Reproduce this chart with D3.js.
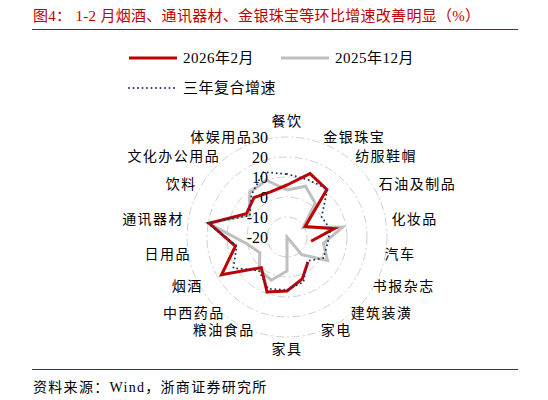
<!DOCTYPE html>
<html lang="zh">
<head>
<meta charset="UTF-8">
<title>图4 雷达图</title>
<script src="https://d3js.org/d3.v7.min.js"></script>
<style>
  body { margin: 0; background: #fff; }
  svg text { font-family: "Liberation Serif", "Noto Sans CJK SC", serif; fill: #000; }
</style>
</head>
<body>
<svg id="chart" width="548" height="400"></svg>
<script>
// categories, clockwise from the top
const categories = ['餐饮', '金银珠宝', '纺服鞋帽', '石油及制品', '化妆品', '汽车', '书报杂志', '建筑装潢',
  '家电', '家具', '粮油食品', '中西药品', '烟酒', '日用品', '通讯器材', '饮料', '文化办公用品', '体娱用品'];

// 2026年2月 (书报杂志 missing)
const feb2026 = [6, 13.7, 11, -9.5, 4, -7.8, null, -3.7, 2.3, 7, 9.2, 0, 17.8, 6.2, 19.5, 3.4, 5.7, 4];
// 2025年12月
const dec2025 = [3.5, 7, 2, -10.8, 8.3, -1.5, 3.4, -8.5, -20, -3, 3, 1.5, -4.3, 0.2, 20, 1.8, 9, 10.2];
// 三年复合增速
const cagr3y = [11.5, 10.5, 11.5, 0, 2, 0.5, 1, -4.3, 4, 6.5, 7.6, 1.9, 11, 5.5, 20.5, 1.5, 7.6, 14.5];

const ringTicks = [-20, -10, 0, 10, 20, 30];

const seriesNames = ['2026年2月', '2025年12月', '三年复合增速'];

const svg = d3.select('#chart');
const cx = 287, cy = 237;
const red = '#c00000';

const r = d3.scaleLinear().domain([-20, 30]).range([0, 100]);
const angle = d3.scaleLinear().domain([0, categories.length]).range([0, 2 * Math.PI]);

// title
svg.append('text')
  .attr('x', 33).attr('y', 21)
  .style('font-size', '15px')
  .style('letter-spacing', '0.3px')
  .style('fill', red)
  .text('图4：  1-2 月烟酒、通讯器材、金银珠宝等环比增速改善明显（%）');

svg.append('line')
  .attr('x1', 32).attr('x2', 518).attr('y1', 29.5).attr('y2', 29.5)
  .attr('stroke', red).attr('stroke-width', 1);

svg.append('line')
  .attr('x1', 32).attr('x2', 518).attr('y1', 369.5).attr('y2', 369.5)
  .attr('stroke', red).attr('stroke-width', 1);

svg.append('text')
  .attr('x', 33).attr('y', 392)
  .style('font-size', '14px')
  .style('letter-spacing', '1.3px')
  .text('资料来源：Wind，浙商证券研究所');

// legend
const legend = [
  { name: seriesNames[0], x: 129, y: 58, color: red, dash: null, w: 3 },
  { name: seriesNames[1], x: 281, y: 58, color: '#bfbfbf', dash: null, w: 3 },
  { name: seriesNames[2], x: 129, y: 88, color: '#1f3864', dash: '0 4.5', w: 2 }
];
const lg = svg.append('g').selectAll('g').data(legend).join('g');
lg.append('line')
  .attr('x1', d => d.x).attr('x2', d => d.x + 48)
  .attr('y1', d => d.y).attr('y2', d => d.y)
  .attr('stroke', d => d.color)
  .attr('stroke-width', d => d.w)
  .attr('stroke-linecap', d => d.dash ? 'round' : 'butt')
  .attr('stroke-dasharray', d => d.dash);
lg.append('text')
  .attr('x', d => d.x + 54).attr('y', d => d.y + 5)
  .style('font-size', '15px')
  .style('letter-spacing', '0.5px')
  .text(d => d.name);

const g = svg.append('g').attr('transform', `translate(${cx},${cy})`);

// rings
g.selectAll('circle.ring')
  .data(ringTicks.filter(t => t > -20))
  .join('circle')
  .attr('class', 'ring')
  .attr('r', d => r(d))
  .attr('fill', 'none')
  .attr('stroke', '#d0d0d0')
  .attr('stroke-width', 1)
  .attr('stroke-dasharray', '8 3 2 3');

// series lines
const line = d3.lineRadial()
  .defined(d => d.v != null)
  .angle(d => angle(d.i))
  .radius(d => r(Math.max(-20, d.v)));

function closedPoints(vals) {
  const pts = vals.map((v, i) => ({ v, i }));
  pts.push({ v: vals[0], i: vals.length });
  return pts;
}

const series = [
  { vals: dec2025, color: '#bfbfbf', w: 3, dash: null },
  { vals: feb2026, color: red, w: 3, dash: null },
  { vals: cagr3y, color: '#1f3864', w: 2, dash: '0 4.5' }
];

g.selectAll('path.series')
  .data(series)
  .join('path')
  .attr('class', 'series')
  .attr('d', d => line(closedPoints(d.vals)))
  .attr('fill', 'none')
  .attr('stroke', d => d.color)
  .attr('stroke-width', d => d.w)
  .attr('stroke-linejoin', 'miter')
  .attr('stroke-linecap', d => d.dash ? 'round' : 'butt')
  .attr('stroke-dasharray', d => d.dash);

// value axis labels
g.selectAll('text.tick')
  .data(ringTicks)
  .join('text')
  .attr('class', 'tick')
  .attr('x', -19)
  .attr('y', d => -r(d))
  .attr('dy', '0.35em')
  .attr('text-anchor', 'end')
  .style('font-size', '16px')
  .text(d => d);

// category labels
g.selectAll('text.cat')
  .data(categories)
  .join('text')
  .attr('class', 'cat')
  .each(function (d, i) {
    const a = angle(i);
    const s = Math.sin(a), c = Math.cos(a);
    let R = c >= 0 ? 106 : 99;
    let anchor = s > 0.1 ? 'start' : (s < -0.1 ? 'end' : 'middle');
    if (Math.abs(s) < 0.1) R = c > 0 ? 116 : 112;
    d3.select(this)
      .attr('x', R * s + (anchor === 'end' ? 1.5 : 0))
      .attr('y', -R * c)
      .attr('dy', '0.35em')
      .attr('text-anchor', anchor);
  })
  .style('font-size', '14px')
  .style('letter-spacing', '1.5px')
  .text(d => d);
</script>
</body>
</html>
